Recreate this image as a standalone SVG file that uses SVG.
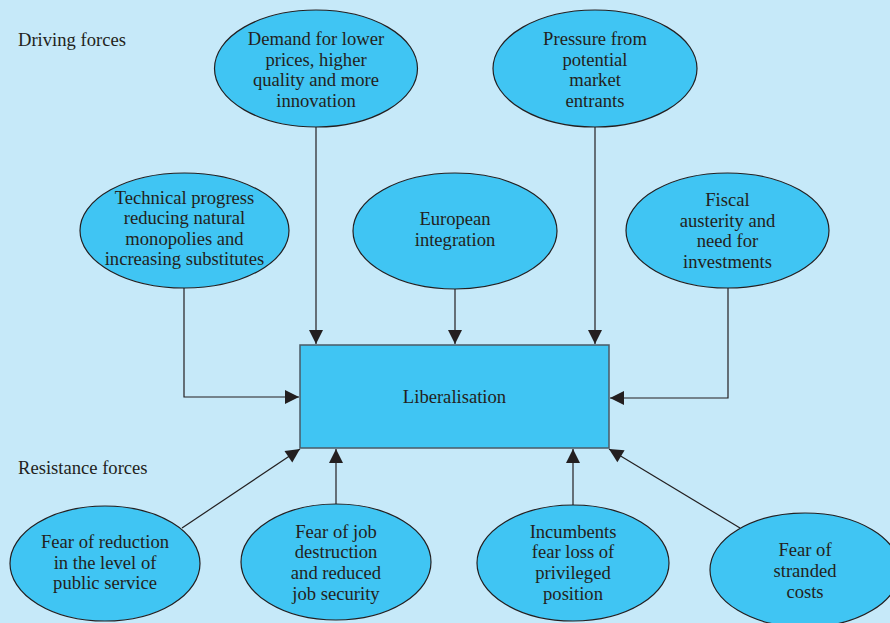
<svg xmlns="http://www.w3.org/2000/svg" width="890" height="623" viewBox="0 0 890 623">
<style>
.bg{fill:#C6E9F9}
.node ellipse,.node rect{fill:#40C5F3;stroke:#231F20;stroke-width:1.2}
.node rect{stroke:#4A5A66;stroke-width:1.5}
text{font-family:"Liberation Serif","Times New Roman",serif;font-size:18.6px;fill:#231F20}
.c{text-anchor:middle}
.conn{fill:none;stroke:#231F20;stroke-width:1.2}
</style>
<defs>
<marker id="ah" markerUnits="userSpaceOnUse" markerWidth="16" markerHeight="16" viewBox="0 0 16 16" refX="15" refY="8" orient="auto">
<path d="M1,1 L15,8 L1,15 Z" fill="#231F20"/>
</marker>
</defs>
<rect class="bg" x="0" y="0" width="890" height="623"/>
<text x="18" y="46">Driving forces</text>
<text x="18" y="474">Resistance forces</text>
<g id="connectors">
<path class="conn" d="M316,127 V344" marker-end="url(#ah)"/>
<path class="conn" d="M455,289 V344" marker-end="url(#ah)"/>
<path class="conn" d="M595,127 V344" marker-end="url(#ah)"/>
<path class="conn" d="M184,288 V397 H299" marker-end="url(#ah)"/>
<path class="conn" d="M728,288 V398 H610" marker-end="url(#ah)"/>
<path class="conn" d="M336,504 V449" marker-end="url(#ah)"/>
<path class="conn" d="M573,505 V449" marker-end="url(#ah)"/>
<path class="conn" d="M182,528 L300,449" marker-end="url(#ah)"/>
<path class="conn" d="M740,528 L609,449" marker-end="url(#ah)"/>
</g>
<g id="demand" class="node">
<ellipse cx="316" cy="68.5" rx="101.5" ry="58.5"/>
<text class="c" x="316" y="45">Demand for lower</text>
<text class="c" x="316" y="66">prices, higher</text>
<text class="c" x="316" y="86">quality and more</text>
<text class="c" x="316" y="107">innovation</text>
</g>
<g id="pressure" class="node">
<ellipse cx="595" cy="68.5" rx="102" ry="58.5"/>
<text class="c" x="595" y="45">Pressure from</text>
<text class="c" x="595" y="66">potential</text>
<text class="c" x="595" y="86">market</text>
<text class="c" x="595" y="107">entrants</text>
</g>
<g id="technical" class="node">
<ellipse cx="184.5" cy="230.5" rx="104.5" ry="57.5"/>
<text class="c" x="184.5" y="204">Technical progress</text>
<text class="c" x="184.5" y="224">reducing natural</text>
<text class="c" x="184.5" y="245">monopolies and</text>
<text class="c" x="184.5" y="265">increasing substitutes</text>
</g>
<g id="european" class="node">
<ellipse cx="455" cy="231" rx="102" ry="58"/>
<text class="c" x="455" y="225">European</text>
<text class="c" x="455" y="246">integration</text>
</g>
<g id="fiscal" class="node">
<ellipse cx="727.5" cy="230.5" rx="101.5" ry="57.5"/>
<text class="c" x="727.5" y="206">Fiscal</text>
<text class="c" x="727.5" y="227">austerity and</text>
<text class="c" x="727.5" y="247">need for</text>
<text class="c" x="727.5" y="268">investments</text>
</g>
<g id="liberalisation" class="node">
<rect x="300" y="345" width="309" height="103"/>
<text class="c" x="454.5" y="403">Liberalisation</text>
</g>
<g id="reduction" class="node">
<ellipse cx="105" cy="563.5" rx="95" ry="57.5"/>
<text class="c" x="105" y="548">Fear of reduction</text>
<text class="c" x="105" y="569">in the level of</text>
<text class="c" x="105" y="589">public service</text>
</g>
<g id="job" class="node">
<ellipse cx="336" cy="562" rx="95" ry="58"/>
<text class="c" x="336" y="538">Fear of job</text>
<text class="c" x="336" y="558">destruction</text>
<text class="c" x="336" y="579">and reduced</text>
<text class="c" x="336" y="600">job security</text>
</g>
<g id="incumbents" class="node">
<ellipse cx="573" cy="563" rx="96" ry="58"/>
<text class="c" x="573" y="538">Incumbents</text>
<text class="c" x="573" y="558">fear loss of</text>
<text class="c" x="573" y="579">privileged</text>
<text class="c" x="573" y="600">position</text>
</g>
<g id="stranded" class="node">
<ellipse cx="805" cy="570" rx="95" ry="57"/>
<text class="c" x="805" y="556">Fear of</text>
<text class="c" x="805" y="577">stranded</text>
<text class="c" x="805" y="598">costs</text>
</g>
</svg>
